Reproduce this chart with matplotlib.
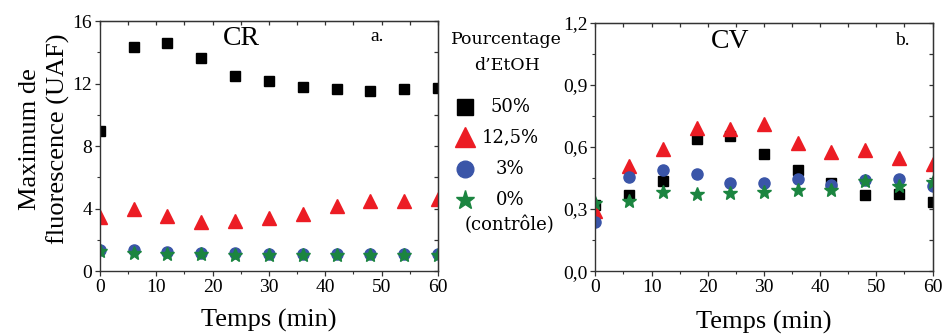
import matplotlib
matplotlib.use("Agg")
import matplotlib.pyplot as plt
from matplotlib.ticker import MultipleLocator, FixedLocator, FixedFormatter

# ── données ──────────────────────────────────────────────────────────
temps = [0, 6, 12, 18, 24, 30, 36, 42, 48, 54, 60]

# CR (a.)
cr_50 = [8.95, 14.37, 14.6, 13.65, 12.5, 12.2, 11.8, 11.64, 11.56, 11.64, 11.73]
cr_125 = [3.45, 4.0, 3.56, 3.13, 3.24, 3.4, 3.67, 4.14, 4.48, 4.52, 4.65]
cr_3 = [1.36, 1.36, 1.22, 1.17, 1.15, 1.1, 1.1, 1.07, 1.08, 1.07, 1.07]
cr_0 = [1.3, 1.15, 1.1, 1.07, 1.06, 1.05, 1.05, 1.04, 1.05, 1.04, 1.05]

# CV (b.)
cv_50 = [0.318, 0.366, 0.434, 0.64, 0.653, 0.565, 0.49, 0.426, 0.366, 0.371, 0.334]
cv_125 = [0.29, 0.508, 0.592, 0.694, 0.689, 0.71, 0.619, 0.576, 0.587, 0.548, 0.519]
cv_3 = [0.237, 0.455, 0.487, 0.471, 0.426, 0.427, 0.447, 0.415, 0.439, 0.447, 0.41]
cv_0 = [0.329, 0.337, 0.382, 0.374, 0.377, 0.384, 0.39, 0.394, 0.434, 0.411, 0.43]

cr_yticks = [0, 4, 8, 12, 16]
cv_yticks = [0.0, 0.3, 0.6, 0.9, 1.2]
cv_ylabels = ["0,0", "0,3", "0,6", "0,9", "1,2"]
xticks = [0, 10, 20, 30, 40, 50, 60]

legend_labels = ["50%", "12,5%", "3%", "0%"]

# ── style ────────────────────────────────────────────────────────────
BLACK = "#000000"
RED = "#ec1c24"
BLUE = "#3a55a8"
GREEN = "#1b8540"
AXIS = "#333333"

SERIF = ["Liberation Serif", "DejaVu Serif"]
LEG_FONT = ["DejaVu Serif"]

plt.rcParams["font.family"] = SERIF

series_style = [
    dict(marker="s", color=BLACK, ms=7.5),
    dict(marker="^", color=RED, ms=9.5),
    dict(marker="o", color=BLUE, ms=8),
    dict(marker="*", color=GREEN, ms=10),
]

fig = plt.figure(figsize=(9.42, 3.36), dpi=100)
ax1 = fig.add_axes([0.106, 0.193, 0.359, 0.744])
ax2 = fig.add_axes([0.632, 0.193, 0.358, 0.739])


def style_axes(ax):
    for sp in ax.spines.values():
        sp.set_color(AXIS)
        sp.set_linewidth(1.0)
    ax.tick_params(which="both", direction="out", colors=AXIS,
                   labelcolor="black", labelsize=14, pad=2)
    ax.tick_params(which="major", length=3.5, width=0.9)
    ax.tick_params(which="minor", length=2.5, width=0.8)
    # ticks internes en haut et à droite
    top = ax.secondary_xaxis("top")
    right = ax.secondary_yaxis("right")
    for sec in (top, right):
        sec.tick_params(which="both", direction="in", colors=AXIS,
                        labelleft=False, labelright=False,
                        labeltop=False, labelbottom=False)
        sec.tick_params(which="major", length=3, width=0.9)
        sec.tick_params(which="minor", length=2, width=0.8)
    return top, right


def draw(ax, data):
    for y, st in zip(data, series_style):
        ax.plot(temps, y, linestyle="none", marker=st["marker"],
                color=st["color"], ms=st["ms"], mec=st["color"])


# a. CR
draw(ax1, [cr_50, cr_125, cr_3, cr_0])
ax1.set_xlim(0, 60)
ax1.set_ylim(0, 16)
ax1.xaxis.set_major_locator(FixedLocator(xticks))
ax1.xaxis.set_minor_locator(MultipleLocator(5))
ax1.yaxis.set_major_locator(FixedLocator(cr_yticks))
ax1.yaxis.set_minor_locator(MultipleLocator(2))
t1, r1 = style_axes(ax1)
t1.xaxis.set_major_locator(MultipleLocator(5))
r1.yaxis.set_major_locator(MultipleLocator(2))
t1.set_xticklabels([])
r1.set_yticklabels([])
ax1.set_xlabel("Temps (min)", fontsize=19, labelpad=9.5)
ax1.set_ylabel("Maximum de\nfluorescence (UAF)", fontsize=19,
               linespacing=1.3)
ax1.yaxis.set_label_coords(-0.088, 0.53)
ax1.text(0.42, 0.93, "CR", transform=ax1.transAxes, fontsize=20,
         ha="center", va="center")
ax1.text(0.82, 0.94, "a.", transform=ax1.transAxes, fontsize=14,
         ha="center", va="center")

# b. CV
draw(ax2, [cv_50, cv_125, cv_3, cv_0])
ax2.set_xlim(0, 60)
ax2.set_ylim(0, 1.2)
ax2.xaxis.set_major_locator(FixedLocator(xticks))
ax2.xaxis.set_minor_locator(MultipleLocator(5))
ax2.yaxis.set_major_locator(FixedLocator(cv_yticks))
ax2.yaxis.set_major_formatter(FixedFormatter(cv_ylabels))
ax2.yaxis.set_minor_locator(MultipleLocator(0.15))
t2, r2 = style_axes(ax2)
t2.xaxis.set_major_locator(MultipleLocator(5))
r2.yaxis.set_major_locator(MultipleLocator(0.15))
t2.set_xticklabels([])
r2.set_yticklabels([])
ax2.set_xlabel("Temps (min)", fontsize=19, labelpad=11)
ax2.text(0.4, 0.925, "CV", transform=ax2.transAxes, fontsize=20,
         ha="center", va="center")
ax2.text(0.91, 0.93, "b.", transform=ax2.transAxes, fontsize=14,
         ha="center", va="center")

# légende (calque en pixels)
leg = fig.add_axes([0, 0, 1, 1])
leg.set_xlim(0, 942)
leg.set_ylim(336, 0)
leg.axis("off")
leg.patch.set_alpha(0)

leg.text(506, 39, "Pourcentage", family=LEG_FONT, fontsize=12.5,
         ha="center", va="center")
leg.text(507, 65, "d\u2019EtOH", family=LEG_FONT, fontsize=12.5,
         ha="center", va="center")
leg_rows = [107, 137, 169, 200]
leg_ms = [11, 15, 12, 14]
for yy, st, lab, ms in zip(leg_rows, series_style, legend_labels, leg_ms):
    leg.plot([465], [yy], linestyle="none", marker=st["marker"],
             color=st["color"], ms=ms)
    leg.text(510, yy, lab, family=LEG_FONT, fontsize=13,
             ha="center", va="center")
leg.text(510, 225, "(contr\u00f4le)", family=LEG_FONT, fontsize=13,
         ha="center", va="center")

fig.savefig("out.png", dpi=100)
